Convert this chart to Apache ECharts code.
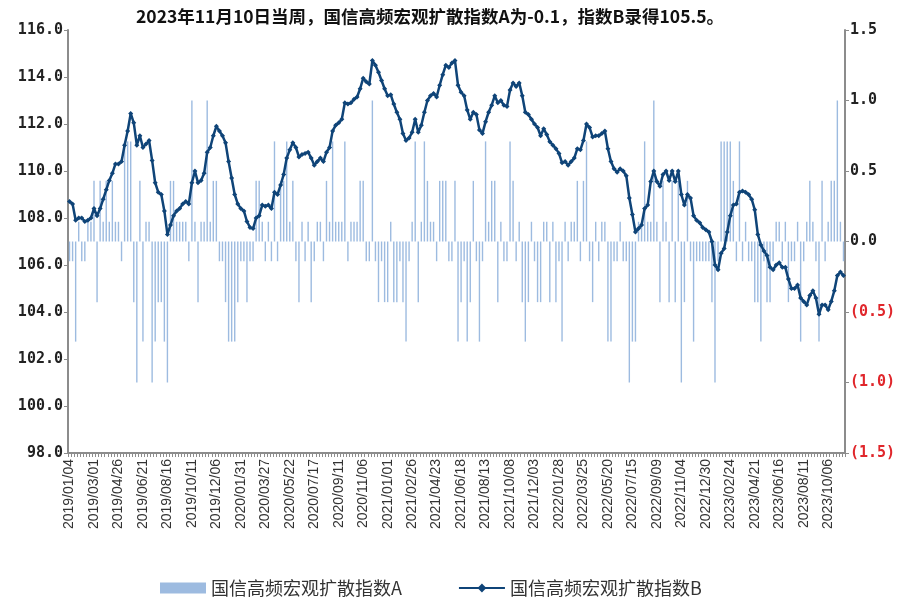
<!DOCTYPE html>
<html><head><meta charset="utf-8">
<script src="https://cdn.jsdelivr.net/npm/echarts@6/dist/echarts.min.js"></script>
<style>html,body{margin:0;padding:0;background:#fff}#c{width:902px;height:598px}</style>
</head><body><div id="c"></div>
<script>
// ---- data ----
const titleText = '2023年11月10日当周，国信高频宏观扩散指数A为-0.1，指数B录得105.5。';
const seriesNameA = '国信高频宏观扩散指数A';
const seriesNameB = '国信高频宏观扩散指数B';
const firstWeek = [2019, 1, 4];   // weekly (Friday) observations
const weekCount = 254;

const indexA = [
-0.14,-0.14,-0.71,0.14,-0.14,-0.14,0.14,0.14,0.43,-0.43,
0.43,0.14,0.43,0.14,0.43,0.14,0.14,-0.14,0.71,0.71,
0.71,-0.43,-1.0,0.43,-0.71,0.14,0.14,-1.0,-0.71,-0.43,
-0.43,-0.71,-1.0,0.43,0.43,0.14,0.14,0.14,0.14,-0.14,
1.0,0.14,-0.43,0.14,0.14,1.0,0.14,0.43,0.43,-0.14,
-0.14,-0.43,-0.71,-0.71,-0.71,-0.43,-0.14,-0.14,-0.43,-0.14,
-0.14,0.43,0.43,0.14,-0.14,0.14,-0.14,0.71,-0.14,0.43,
0.43,0.71,0.14,0.43,-0.14,-0.43,0.14,-0.14,0.14,-0.43,
-0.14,0.14,0.14,-0.14,0.43,0.14,0.71,0.14,0.14,0.14,
0.71,-0.14,0.14,0.14,0.14,0.43,0.43,-0.14,-0.14,1.0,
-0.14,-0.43,-0.14,-0.43,-0.43,0.14,-0.43,-0.43,-0.14,-0.43,
-0.71,-0.14,0.14,0.71,-0.43,0.14,0.71,0.43,0.14,0.14,
-0.14,0.43,0.43,0.43,-0.14,-0.14,0.43,-0.71,-0.43,-0.14,
-0.71,-0.43,0.43,-0.14,-0.71,-0.14,0.71,0.14,0.43,0.43,
-0.43,0.14,-0.14,-0.14,0.71,0.43,-0.14,0.14,-0.43,-0.71,
-0.43,0.14,-0.14,-0.43,-0.43,0.14,0.14,-0.43,0.14,-0.43,
-0.14,-0.71,0.14,-0.14,0.14,0.14,0.43,-0.14,0.43,0.71,
-0.14,-0.43,0.14,-0.14,0.14,0.14,-0.71,-0.71,-0.14,-0.14,
0.14,-0.14,-0.14,-1.0,-0.71,-0.71,0.14,0.14,0.71,0.14,
0.14,1.0,0.14,-0.43,0.43,0.14,-0.43,0.43,-0.43,0.43,
-1.0,-0.43,0.43,-0.14,-0.71,-0.14,-0.14,-0.14,-0.14,-0.14,
-0.43,-1.0,-0.14,0.71,0.71,0.71,0.71,0.43,-0.14,0.71,
-0.14,0.14,-0.14,-0.14,-0.43,-0.43,-0.71,-0.14,-0.43,-0.43,
-0.14,0.14,0.14,-0.14,0.14,-0.43,-0.14,-0.14,0.14,-0.71,
-0.14,0.14,0.43,0.14,-0.14,-0.71,0.43,-0.14,0.14,0.43,
0.43,1.0,0.14,-0.14
];

const indexB = [
108.7,108.6,107.9,108.0,108.0,107.85,107.9,108.0,108.4,108.1,
108.4,108.8,109.2,109.6,109.9,110.3,110.3,110.4,111.1,111.7,
112.45,112.05,111.1,111.5,111.0,111.15,111.3,110.45,109.5,109.1,
109.0,108.3,107.3,107.7,108.1,108.3,108.4,108.6,108.7,108.6,
109.5,110.0,109.5,109.6,109.9,110.8,111.0,111.5,111.9,111.7,
111.5,111.2,110.4,109.7,109.0,108.6,108.4,108.3,107.85,107.6,
107.55,108.0,108.1,108.55,108.5,108.55,108.4,109.1,109.0,109.4,
109.85,110.55,110.9,111.2,111.0,110.6,110.7,110.75,110.8,110.55,
110.25,110.4,110.55,110.4,110.8,111.0,111.7,111.95,112.05,112.2,
112.9,112.85,112.9,113.05,113.15,113.5,113.95,113.8,113.7,114.7,
114.5,114.2,113.85,113.5,113.2,113.25,112.85,112.5,112.2,111.6,
111.3,111.4,111.65,112.2,111.65,111.95,112.5,113.0,113.2,113.3,
113.15,113.65,114.1,114.5,114.4,114.6,114.7,113.65,113.35,113.2,
112.6,112.2,112.5,112.4,111.75,111.6,112.1,112.5,112.8,113.2,
112.9,113.0,112.8,112.75,113.45,113.75,113.6,113.75,113.2,112.5,
112.4,112.2,112.0,111.85,111.5,111.8,111.55,111.25,111.1,110.95,
110.75,110.35,110.4,110.25,110.4,110.55,110.95,110.9,111.3,112.0,
111.85,111.45,111.5,111.5,111.6,111.7,110.95,110.4,110.1,109.95,
110.1,110.0,109.8,108.85,108.15,107.4,107.55,107.7,108.4,108.55,
109.55,110.0,109.55,109.35,109.85,110.0,109.6,110.0,109.55,110.0,
109.0,108.55,109.0,108.85,108.1,107.9,107.8,107.6,107.5,107.4,
107.0,106.0,105.8,106.5,106.7,107.4,108.1,108.55,108.6,109.1,
109.15,109.1,109.0,108.8,108.35,107.3,106.85,106.6,106.4,105.9,
105.8,106.0,106.1,105.9,105.9,105.4,105.0,105.0,105.15,104.6,
104.45,104.3,104.7,104.9,104.6,103.9,104.3,104.3,104.1,104.45,
104.9,105.55,105.7,105.55
];

const leftAxis = {min: 98, max: 116, step: 2};
const rightAxis = {min: -1.5, max: 1.5, step: 0.5};

// ---- categories (weekly dates) ----
const categories = [];
(function () {
  let t = Date.UTC(firstWeek[0], firstWeek[1] - 1, firstWeek[2]);
  for (let i = 0; i < weekCount; i++) {
    const d = new Date(t);
    categories.push(d.getUTCFullYear() + '/' + String(d.getUTCMonth() + 1).padStart(2, '0') + '/' + String(d.getUTCDate()).padStart(2, '0'));
    t += 7 * 86400000;
  }
})();

const chart = echarts.init(document.getElementById('c'), null, {renderer: 'canvas'});
const axisGray = '#8c8c8c';
const lblFont = '"Liberation Sans", Arial, sans-serif';
const numFont = '"DejaVu Sans Mono", monospace';
const cjkFont = '"Noto Sans CJK SC", sans-serif';

chart.setOption({
  animation: false,
  backgroundColor: '#fff',
  title: {
    text: titleText,
    left: 425, top: 3, textAlign: 'center',
    textStyle: {fontFamily: cjkFont, fontSize: 17.5, fontWeight: 'bold', color: '#111'}
  },
  legend: {
    top: 574, left: 155, itemGap: 56, itemWidth: 46, itemHeight: 11,
    textStyle: {fontFamily: cjkFont, fontSize: 18, color: '#333'},
    data: [
      {name: seriesNameA, icon: 'rect'},
      {name: seriesNameB}
    ]
  },
  grid: {left: 68, right: 57, top: 30, bottom: 145, containLabel: false},
  xAxis: {
    type: 'category',
    data: categories,
    boundaryGap: true,
    axisLine: {onZero: false, lineStyle: {color: axisGray, width: 2}},
    axisTick: {show: true, interval: 0, length: 4, lineStyle: {color: axisGray}},
    axisLabel: {interval: 7, rotate: 90, fontFamily: lblFont, fontSize: 14, color: '#333', margin: 6}
  },
  yAxis: [
    {
      type: 'value', min: leftAxis.min, max: leftAxis.max, interval: leftAxis.step,
      splitLine: {show: false},
      axisLine: {show: true, lineStyle: {color: axisGray, width: 2}},
      axisTick: {show: true, length: 4, lineStyle: {color: axisGray}},
      axisLabel: {formatter: v => v.toFixed(1), fontFamily: numFont, fontSize: 15, fontWeight: 'bold', color: '#222', margin: 5}
    },
    {
      type: 'value', min: rightAxis.min, max: rightAxis.max, interval: rightAxis.step, position: 'right',
      splitLine: {show: false},
      axisLine: {show: true, lineStyle: {color: axisGray, width: 2}},
      axisTick: {show: true, length: 4, lineStyle: {color: axisGray}},
      axisLabel: {
        formatter: v => v < 0 ? '(' + Math.abs(v).toFixed(1) + ')' : v.toFixed(1),
        color: v => (parseFloat(v) < 0 ? '#e0262b' : '#222'),
        fontFamily: numFont, fontSize: 15, fontWeight: 'bold', margin: 5
      }
    }
  ],
  series: [
    {
      name: seriesNameA, type: 'bar', yAxisIndex: 1, data: indexA,
      barWidth: 1.4, itemStyle: {color: '#9dbbe0'}, z: 1
    },
    {
      name: seriesNameB, type: 'line', yAxisIndex: 0, data: indexB,
      lineStyle: {color: '#0f4478', width: 2.5},
      itemStyle: {color: '#0f4478'},
      symbol: 'diamond', symbolSize: 5, showSymbol: true, showAllSymbol: true, z: 3
    }
  ]
});
</script>
</body></html>
